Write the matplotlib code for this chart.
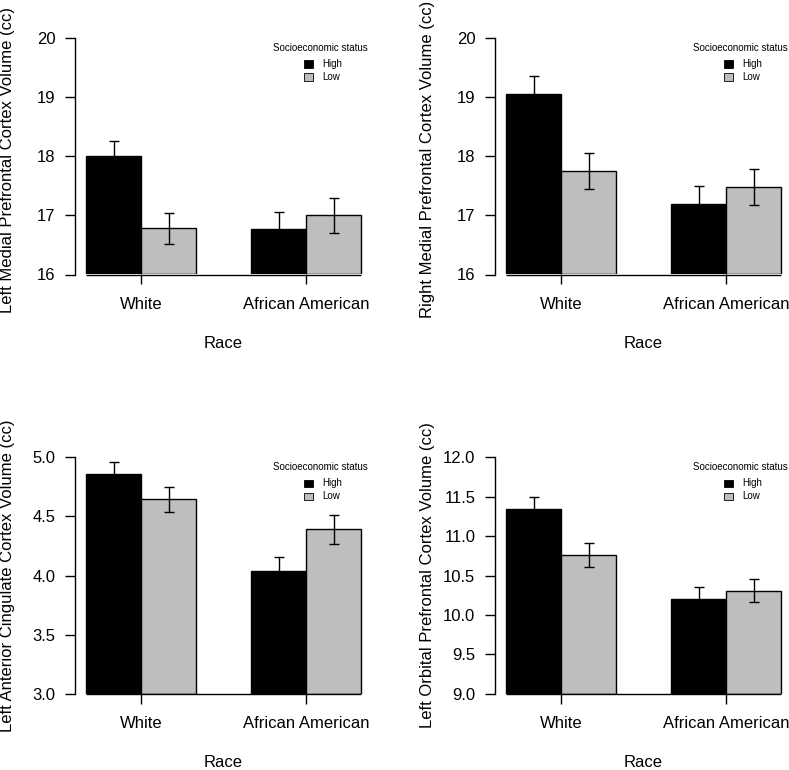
import numpy as np
import matplotlib
matplotlib.use("Agg")
import matplotlib.pyplot as plt
from matplotlib.patches import Rectangle
from matplotlib.transforms import blended_transform_factory

plt.rcParams['font.family'] = ['Liberation Sans', 'DejaVu Sans']

# data
races = ["White", "African American"]
ses_levels = ["High", "Low"]
ses_colors = ["black", "#BEBEBE"]
ylabels = ["Left Medial Prefrontal Cortex Volume (cc)",
           "Right Medial Prefrontal Cortex Volume (cc)",
           "Left Anterior Cingulate Cortex Volume (cc)",
           "Left Orbital Prefrontal Cortex Volume (cc)"]
high_mean = [[18.00, 16.77], [19.05, 17.20], [4.86, 4.04], [11.35, 10.20]]
high_se = [[0.26, 0.29], [0.30, 0.29], [0.10, 0.12], [0.145, 0.15]]
low_mean = [[16.78, 17.00], [17.75, 17.48], [4.645, 4.39], [10.76, 10.31]]
low_se = [[0.265, 0.295], [0.31, 0.30], [0.105, 0.12], [0.155, 0.145]]
yticks = [[16, 17, 18, 19, 20],
          [16, 17, 18, 19, 20],
          [3.0, 3.5, 4.0, 4.5, 5.0],
          [9.0, 9.5, 10.0, 10.5, 11.0, 11.5, 12.0]]
ytick_fmt = ["{:.0f}", "{:.0f}", "{:.1f}", "{:.1f}"]

W, H = 789, 770
fig = plt.figure(figsize=(W / 100, H / 100), dpi=100)

# panel placement in pixels: left, top
panel_px = [(75, 38), (495, 38), (75, 457.3), (495, 457.3)]
pw, ph = 297, 236.5

# R barplot(beside=TRUE) positions: bars of width 1, a gap of 1 between groups
group_left = np.array([1.0, 4.0])
high_x = group_left + 0.5
low_x = group_left + 1.5
group_centers = group_left + 1.0

for i in range(4):
    left, top = panel_px[i]
    ax = fig.add_axes([left / W, 1 - (top + ph) / H, pw / W, ph / H])
    ymin, ymax = yticks[i][0], yticks[i][-1]

    for xs, means, ses, col in [(high_x, high_mean[i], high_se[i], ses_colors[0]),
                                (low_x, low_mean[i], low_se[i], ses_colors[1])]:
        means = np.array(means)
        ax.bar(xs, means - ymin, bottom=ymin, width=1.0, color=col,
               edgecolor="black", linewidth=1.0, zorder=2)
        ax.errorbar(xs, means, yerr=ses, fmt="none", ecolor="black",
                    elinewidth=1.0, capsize=3.6, capthick=1.0, zorder=3)

    # baseline under the bars
    ax.hlines(ymin, high_x[0] - 0.5, low_x[-1] + 0.5, color="black",
              linewidth=1.0, zorder=4, clip_on=False)

    ax.set_xlim(0.8, 6.2)
    ax.set_ylim(ymin, ymax)
    for s in ["top", "right", "bottom"]:
        ax.spines[s].set_visible(False)
    ax.spines["left"].set_linewidth(1.0)

    ax.set_yticks(yticks[i])
    ax.set_yticklabels([ytick_fmt[i].format(v) for v in yticks[i]])
    ax.set_xticks(group_centers)
    ax.set_xticklabels(races)
    ax.tick_params(axis="y", length=7.2, width=1.0, pad=7, labelsize=12)
    ax.tick_params(axis="x", length=7.2, width=1.0, pad=9, labelsize=12)

    ylab_y = 0.485 if i < 2 else 0.5
    ax.text(-0.226, ylab_y, ylabels[i], transform=ax.transAxes, rotation=90,
            ha="center", va="center", fontsize=12)
    ax.text(0.5, -0.29, "Race", transform=ax.transAxes,
            ha="center", va="center", fontsize=12)

    # legend, R style
    tr = blended_transform_factory(ax.transData, ax.transAxes)
    ax.text(5.27, 0.958, "Socioeconomic status", transform=tr,
            ha="center", va="center", fontsize=7)
    for k, (lab, col) in enumerate(zip(ses_levels, ses_colors)):
        yy = 0.89 - k * 0.055
        ax.add_patch(Rectangle((4.97, yy - 0.016), 0.15, 0.032, transform=tr,
                               facecolor=col, edgecolor="black",
                               linewidth=0.6, clip_on=False))
        ax.text(5.29, yy, lab, transform=tr, ha="left", va="center", fontsize=7)

fig.savefig("out.png", dpi=100)
